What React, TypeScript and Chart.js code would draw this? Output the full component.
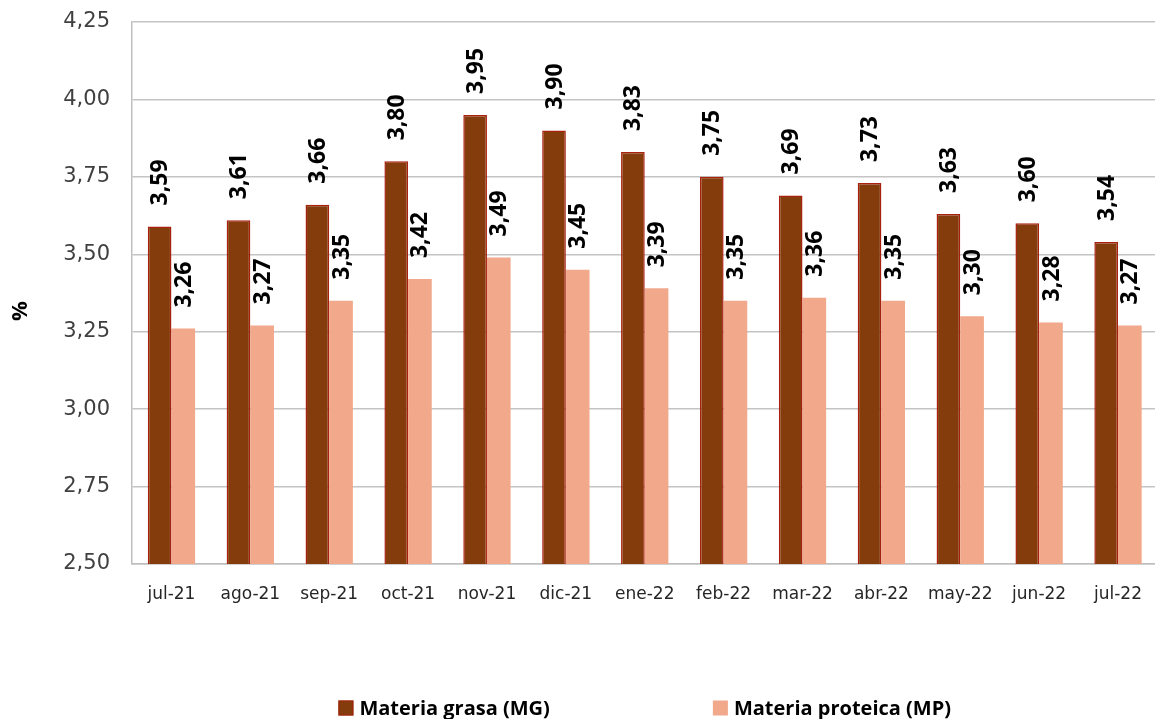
import React, { useEffect, useRef } from "react";
import { Chart, registerables } from "chart.js";

Chart.register(...registerables);

const categories = ["jul-21", "ago-21", "sep-21", "oct-21", "nov-21", "dic-21", "ene-22", "feb-22", "mar-22", "abr-22", "may-22", "jun-22", "jul-22"];
const grasaValues = [3.59, 3.61, 3.66, 3.8, 3.95, 3.9, 3.83, 3.75, 3.69, 3.73, 3.63, 3.6, 3.54];
const proteicaValues = [3.26, 3.27, 3.35, 3.42, 3.49, 3.45, 3.39, 3.35, 3.36, 3.35, 3.3, 3.28, 3.27];
const seriesNames = ["Materia grasa (MG)", "Materia proteica (MP)"];
const yMin = 2.5;
const yMax = 4.25;
const yStep = 0.25;
const yTitle = "%";

const fmt = (v: number) => v.toFixed(2).replace(".", ",");

const labelPlugin = {
  id: "barLabels",
  afterDatasetsDraw(chart: any) {
    const ctx = chart.ctx;
    ctx.save();
    ctx.font = "bold 23px 'Open Sans'";
    ctx.fillStyle = "#000000";
    ctx.textAlign = "left";
    ctx.textBaseline = "middle";
    chart.data.datasets.forEach((ds: any, di: number) => {
      const meta = chart.getDatasetMeta(di);
      meta.data.forEach((bar: any, i: number) => {
        ctx.save();
        ctx.translate(bar.x + 1, bar.y - 21);
        ctx.rotate(-Math.PI / 2);
        ctx.fillText(fmt(ds.data[i]), 0, 0);
        ctx.restore();
      });
    });
    ctx.restore();
  },
};

const extrasPlugin = {
  id: "extras",
  afterDraw(chart: any) {
    const ctx = chart.ctx;
    const area = chart.chartArea;
    // y-axis title
    ctx.save();
    ctx.font = "bold 22px 'Open Sans'";
    ctx.fillStyle = "#000000";
    ctx.textAlign = "center";
    ctx.textBaseline = "middle";
    ctx.translate(21, (area.top + area.bottom) / 2 + 18);
    ctx.rotate(-Math.PI / 2);
    ctx.fillText(yTitle, 0, 0);
    ctx.restore();

    // legend
    ctx.save();
    ctx.font = "bold 20px 'Open Sans'";
    ctx.textBaseline = "middle";
    ctx.textAlign = "left";
    const box = 15;
    const boxGap = 6;
    const itemGap = 163;
    const items = chart.data.datasets.map((ds: any) => ({
      text: ds.label,
      fill: ds.backgroundColor,
      stroke: ds.borderColor,
      w: box + boxGap + ctx.measureText(ds.label).width,
    }));
    const total = items.reduce((s: number, it: any) => s + it.w, 0) + itemGap * (items.length - 1);
    let x = (area.left + area.right) / 2 - total / 2;
    const yc = 708;
    items.forEach((it: any) => {
      ctx.fillStyle = it.fill;
      ctx.fillRect(x, yc - box / 2, box, box);
      if (it.stroke && it.stroke !== it.fill) {
        ctx.strokeStyle = it.stroke;
        ctx.lineWidth = 1;
        ctx.strokeRect(x + 0.5, yc - box / 2 + 0.5, box - 1, box - 1);
      }
      ctx.fillStyle = "#000000";
      ctx.fillText(it.text, x + box + boxGap, yc + 1);
      x += it.w + itemGap;
    });
    ctx.restore();
  },
};

export default function App() {
  const ref = useRef<HTMLCanvasElement>(null);
  useEffect(() => {
    if (!ref.current) return;
    const chart = new Chart(ref.current, {
      type: "bar",
      data: {
        labels: categories,
        datasets: [
          {
            label: seriesNames[0],
            data: grasaValues,
            backgroundColor: "#843C0C",
            borderColor: "#A8200E",
            borderWidth: 1.5,
            borderSkipped: false,
            categoryPercentage: 0.6,
            barPercentage: 1.0,
          },
          {
            label: seriesNames[1],
            data: proteicaValues,
            backgroundColor: "#F2A88B",
            borderColor: "#F2A88B",
            borderWidth: 0,
            categoryPercentage: 0.6,
            barPercentage: 1.0,
          },
        ],
      },
      options: {
        responsive: false,
        animation: false,
        layout: { padding: { top: 22, left: 0, right: 0, bottom: 0 } },
        plugins: {
          legend: { display: false },
          tooltip: { enabled: false },
        },
        scales: {
          x: {
            grid: { display: false, drawTicks: false },
            border: { display: true, color: "#BFBFBF", width: 1.5 },
            ticks: {
              color: "#262626",
              font: { family: "'DejaVu Sans'", size: 17 },
              padding: 20,
              maxRotation: 0,
              autoSkip: false,
            },
            afterFit(scale: any) {
              scale.height = 155;
            },
          },
          y: {
            min: yMin,
            max: yMax,
            grid: {
              color: "#C4C4C4",
              lineWidth: 1.5,
              drawTicks: true,
              tickLength: 22,
              tickColor: "rgba(0,0,0,0)",
            },
            border: { display: true, color: "#BFBFBF", width: 1.5 },
            ticks: {
              stepSize: yStep,
              color: "#404040",
              font: { family: "'DejaVu Sans'", size: 21 },
              padding: 0,
              callback: (v: any) => fmt(Number(v)),
            },
            afterFit(scale: any) {
              scale.width = 132;
            },
          },
        },
      },
      plugins: [labelPlugin, extrasPlugin],
    });
    return () => chart.destroy();
  }, []);
  return (
    <div style={{ position: "fixed", left: 0, top: 0, width: 1155, height: 719, overflow: "hidden", background: "#ffffff" }}>
      <canvas ref={ref} width={1162} height={719} style={{ display: "block" }} />
    </div>
  );
}
